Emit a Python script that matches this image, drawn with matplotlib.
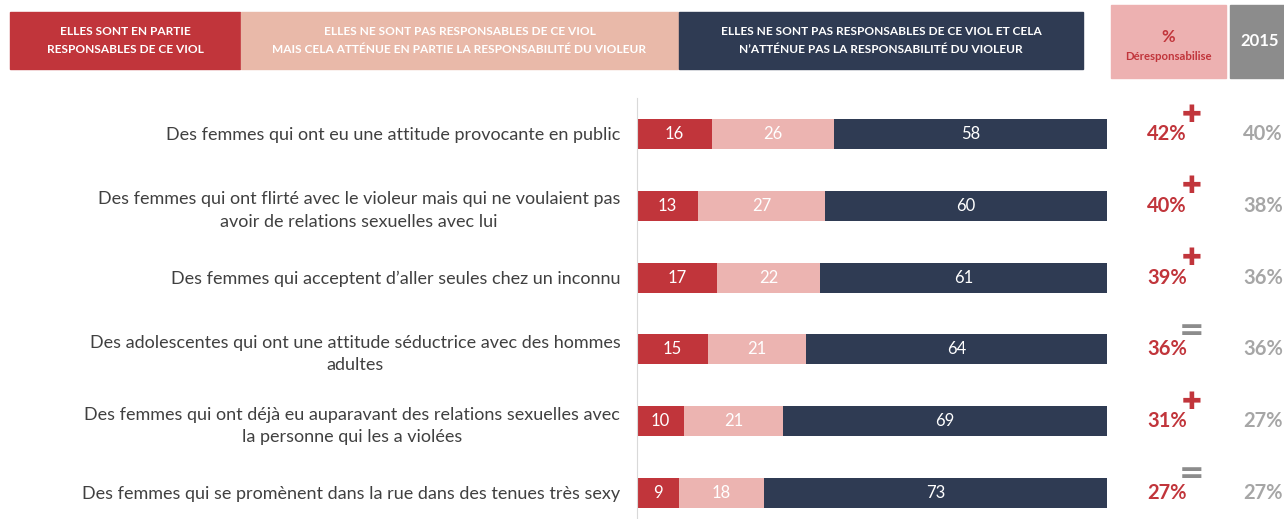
import matplotlib.pyplot as plt
from matplotlib.patches import Rectangle

plt.rcParams['font.family'] = ['Lato', 'DejaVu Sans']

labels = [
    "Des femmes qui ont eu une attitude provocante en public",
    "Des femmes qui ont flirté avec le violeur mais qui ne voulaient pas\navoir de relations sexuelles avec lui",
    "Des femmes qui acceptent d\u2019aller seules chez un inconnu",
    "Des adolescentes qui ont une attitude séductrice avec des hommes\nadultes",
    "Des femmes qui ont déjà eu auparavant des relations sexuelles avec\nla personne qui les a violées",
    "Des femmes qui se promènent dans la rue dans des tenues très sexy",
]
partly = [16, 13, 17, 15, 10, 9]
attenuates = [26, 27, 22, 21, 21, 18]
not_resp = [58, 60, 61, 64, 69, 73]
pct_2019 = [42, 40, 39, 36, 31, 27]
pct_2015 = [40, 38, 36, 36, 27, 27]
trend = ['+', '+', '+', '=', '+', '=']

headers = [
    "ELLES SONT EN PARTIE\nRESPONSABLES DE CE VIOL",
    "ELLES NE SONT PAS RESPONSABLES DE CE VIOL\nMAIS CELA ATTÉNUE EN PARTIE LA RESPONSABILITÉ DU VIOLEUR",
    "ELLES NE SONT PAS RESPONSABLES DE CE VIOL ET CELA\nN\u2019ATTÉNUE PAS LA RESPONSABILITÉ DU VIOLEUR",
]

RED = '#C1353B'
PINK = '#ECB4B1'
NAVY = '#2F3B53'
HDR_PINK = '#E9B9A9'
GRAY_TXT = '#A6A6A6'
W, H = 1284, 519

fig = plt.figure(figsize=(W / 100, H / 100), dpi=100)

# bar axes placed in pixel terms
ax = fig.add_axes([637 / W, 0, 470 / W, 421 / H])
y = list(range(len(labels)))
bh = 0.42
left = [0] * len(y)
for vals, col in [(partly, RED), (attenuates, PINK), (not_resp, NAVY)]:
    bars = ax.barh(y, vals, left=left, height=bh, color=col, edgecolor='none')
    for b, v in zip(bars, vals):
        ax.text(b.get_x() + b.get_width() / 2, b.get_y() + bh / 2, str(v),
                ha='center', va='center', color='white', fontsize=12)
    left = [l + v for l, v in zip(left, vals)]

ax.set_xlim(0, 100)
ax.set_ylim(5 + 26 / 71.8, -36 / 71.8)
ax.set_xticks([])
ax.set_yticks(y)
ax.set_yticklabels(labels, fontsize=13, color='#404040', multialignment='center',
                   linespacing=1.5)
ax.tick_params(axis='y', length=0, pad=12)
for s in ['top', 'right', 'bottom']:
    ax.spines[s].set_visible(False)
ax.spines['left'].set_color('#D9D9D9')

# right-hand percent columns
tr = ax.get_yaxis_transform()
for i in y:
    ax.text(1.0 + 60 / 470, i, f"{pct_2019[i]}%", transform=tr,
            ha='center', va='center', color=RED, fontsize=14.5, fontweight='bold')
    ax.text(1.0 + 156 / 470, i, f"{pct_2015[i]}%", transform=tr,
            ha='center', va='center', color=GRAY_TXT, fontsize=14.5, fontweight='bold')
    if trend[i] == '+':
        ax.text(1.0 + 85 / 470, i - 0.27, '\u271A', transform=tr,
                ha='center', va='center', color=RED, fontsize=17, family='DejaVu Sans')
    else:
        ax.text(1.0 + 85 / 470, i - 0.27, '=', transform=tr,
                ha='center', va='center', color='#8C8C8C', fontsize=22,
                fontweight='bold', family='DejaVu Sans')

# header boxes
def box(x0, y0, x1, y1, color, text, tcolor, size, weight='bold'):
    fig.patches.append(Rectangle((x0 / W, 1 - y1 / H), (x1 - x0) / W, (y1 - y0) / H,
                                 transform=fig.transFigure, color=color, zorder=0))
    fig.text((x0 + x1) / 2 / W, 1 - (y0 + y1) / 2 / H, text, ha='center', va='center',
             color=tcolor, fontsize=size, fontweight=weight, linespacing=1.75)

box(10, 12, 240, 69, RED, headers[0], 'white', 8.6)
box(241, 12, 678, 69, HDR_PINK, headers[1], 'white', 8.6)
box(679, 12, 1083, 69, NAVY, headers[2], 'white', 8.6)
box(1111, 5, 1226, 78, '#EDB1B1', '', RED, 8)
fig.text(1168.5 / W, 1 - 37 / H, '%', ha='center', va='center', color=RED, fontsize=12, fontweight='bold')
fig.text(1168.5 / W, 1 - 56 / H, 'Déresponsabilise', ha='center', va='center', color=RED, fontsize=8.2, fontweight='bold')
box(1230, 5, 1290, 78, '#8C8C8C', '2015', 'white', 12)

fig.savefig('out.png', dpi=100)
